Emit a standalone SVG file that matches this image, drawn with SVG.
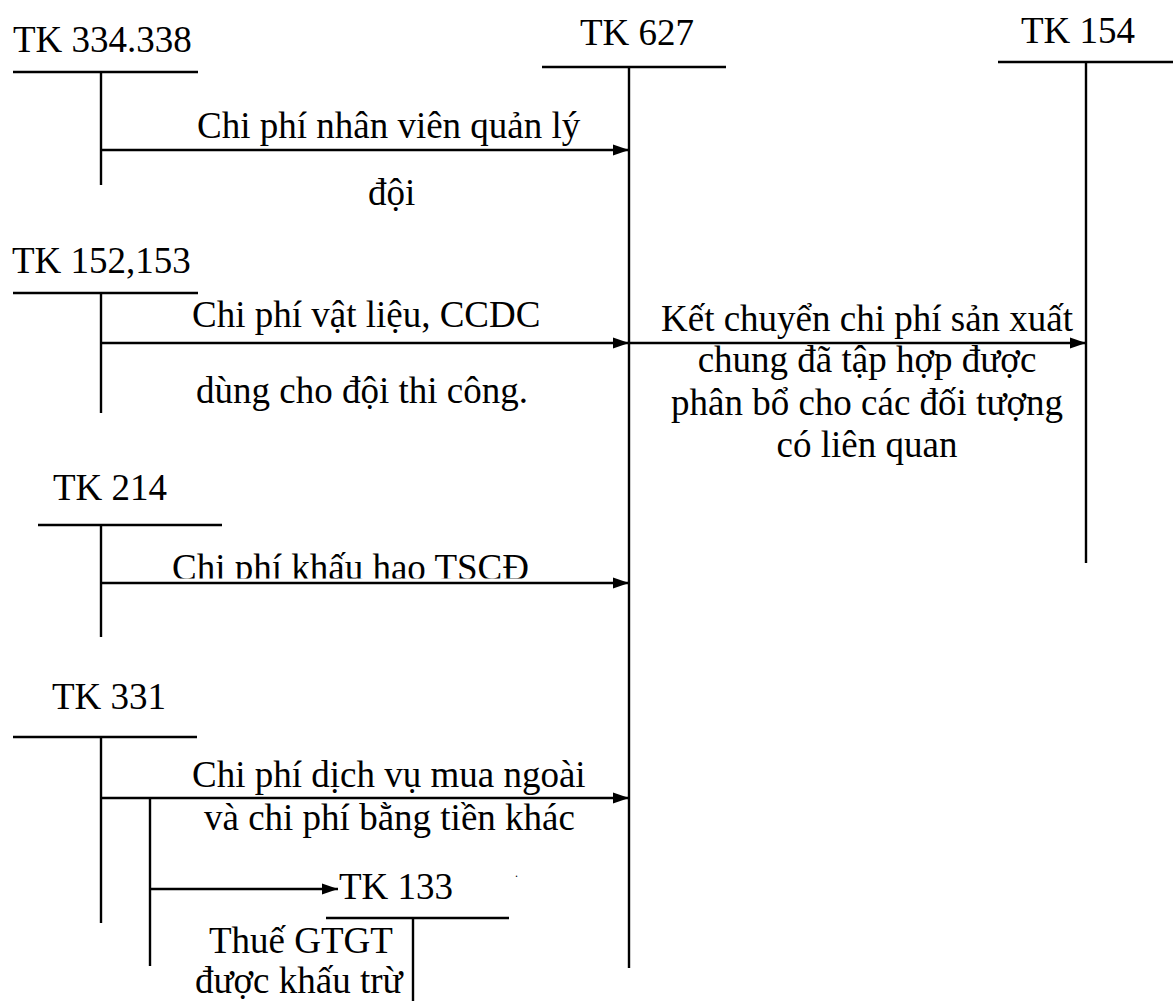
<svg xmlns="http://www.w3.org/2000/svg" width="1173" height="1001" viewBox="0 0 1173 1001">
<style>
text{font-family:"Liberation Serif","Times New Roman",serif;font-size:37px;fill:#000}
.h{stroke:#000;stroke-width:2.6;fill:none}
.v{stroke:#000;stroke-width:2.4;fill:none}
.a{stroke:#000;stroke-width:2.4;fill:none;marker-end:url(#arr)}
.c{text-anchor:middle}
</style>
<defs>
<marker id="arr" markerUnits="userSpaceOnUse" markerWidth="17" markerHeight="12" refX="16" refY="6" orient="auto">
<path d="M0,0.5 L16,6 L0,11.5 Z" fill="#000"/>
</marker>
<clipPath id="clip214"><rect x="150" y="540" width="450" height="38.5"/></clipPath>
</defs>
<rect width="1173" height="1001" fill="#fff"/>

<g id="tk334">
<text x="13" y="52">TK 334.338</text>
<line class="h" x1="13" y1="72" x2="198" y2="72"/>
<line class="v" x1="101" y1="72" x2="101" y2="185"/>
</g>
<g id="tk627">
<text x="580" y="45">TK 627</text>
<line class="h" x1="542" y1="67" x2="726" y2="67"/>
<line class="v" x1="629" y1="67" x2="629" y2="968"/>
</g>
<g id="tk154">
<text x="1021" y="43">TK 154</text>
<line class="h" x1="998" y1="62" x2="1173" y2="62"/>
<line class="v" x1="1086" y1="62" x2="1086" y2="563"/>
</g>
<g id="tk152">
<text x="12" y="273">TK 152,153</text>
<line class="h" x1="13" y1="293" x2="198" y2="293"/>
<line class="v" x1="101" y1="293" x2="101" y2="413"/>
</g>
<g id="tk214">
<text x="53" y="500">TK 214</text>
<line class="h" x1="38" y1="525" x2="222" y2="525"/>
<line class="v" x1="101" y1="525" x2="101" y2="637"/>
</g>
<g id="tk331">
<text x="52" y="709">TK 331</text>
<line class="h" x1="13" y1="737" x2="197" y2="737"/>
<line class="v" x1="101" y1="737" x2="101" y2="923"/>
</g>
<g id="tk133">
<text x="339" y="899">TK 133</text>
<line class="h" x1="326" y1="918" x2="509" y2="918"/>
<line class="v" x1="413" y1="918" x2="413" y2="1001"/>
</g>

<g id="connectors">
<line class="a" x1="101" y1="150" x2="629" y2="150"/>
<line class="a" x1="101" y1="343" x2="629" y2="343"/>
<line class="a" x1="629" y1="343" x2="1086" y2="343"/>
<line class="a" x1="101" y1="583" x2="629" y2="583"/>
<line class="a" x1="101" y1="798" x2="629" y2="798"/>
<line class="v" x1="150" y1="798" x2="150" y2="966"/>
<line class="a" x1="150" y1="889" x2="338" y2="889"/>
</g>

<g id="labels">
<text x="197" y="138">Chi phí nhân viên quản lý</text>
<text x="368" y="205">đội</text>
<text x="192" y="327">Chi phí vật liệu, CCDC</text>
<text x="196" y="403">dùng cho đội thi công.</text>
<text class="c" x="867" y="331">Kết chuyển chi phí sản xuất</text>
<text class="c" x="867" y="372">chung đã tập hợp được</text>
<text class="c" x="867" y="415">phân bổ cho các đối tượng</text>
<text class="c" x="867" y="457">có liên quan</text>
<text x="172" y="580" clip-path="url(#clip214)">Chi phí khấu hao TSCĐ</text>
<text x="192" y="787">Chi phí dịch vụ mua ngoài</text>
<text x="204" y="830">và chi phí bằng tiền khác</text>
<text x="209" y="953">Thuế GTGT</text>
<text x="195" y="993">được khấu trừ</text>
<text x="515" y="877" style="font-size:12px">.</text>
</g>
</svg>
